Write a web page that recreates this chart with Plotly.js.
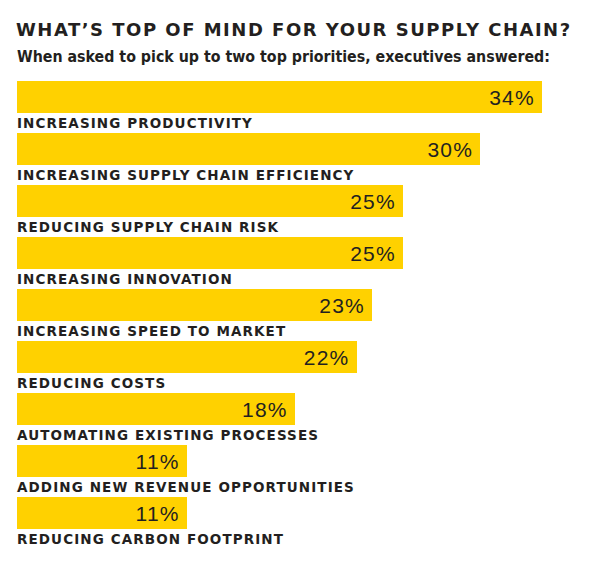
<!DOCTYPE html>
<html>
<head>
<meta charset="utf-8">
<script src="https://cdn.plot.ly/plotly-3.0.1.min.js"></script>
<style>
html,body{margin:0;padding:0;background:#fff;}
#chart{width:600px;height:573px;}
</style>
</head>
<body>
<div id="chart"></div>
<script>
const categories = [
  "INCREASING PRODUCTIVITY",
  "INCREASING SUPPLY CHAIN EFFICIENCY",
  "REDUCING SUPPLY CHAIN RISK",
  "INCREASING INNOVATION",
  "INCREASING SPEED TO MARKET",
  "REDUCING COSTS",
  "AUTOMATING EXISTING PROCESSES",
  "ADDING NEW REVENUE OPPORTUNITIES",
  "REDUCING CARBON FOOTPRINT"
];
const values = [34, 30, 25, 25, 23, 22, 18, 11, 11];
const titleText = "WHAT’S TOP OF MIND FOR YOUR SUPPLY CHAIN?";
const subtitleText = "When asked to pick up to two top priorities, executives answered:";

const positions = categories.map((c, i) => i);
const ink = "#231f20";

const trace = {
  type: "bar",
  orientation: "h",
  x: values,
  y: positions,
  width: 0.6,
  marker: {color: "#ffd100", line: {width: 0}},
  text: values.map(v => '<span style="letter-spacing:1.2px">' + v + '%</span>\u2009'),
  textposition: "inside",
  insidetextanchor: "end",
  textangle: 0,
  textfont: {family: "Liberation Sans, Arial, sans-serif", size: 21, color: ink},
  cliponaxis: false,
  hoverinfo: "none"
};

const annotations = categories.map((c, i) => ({
  x: 0, y: i, xref: "x", yref: "y",
  xanchor: "left", yanchor: "middle",
  yshift: -26, xshift: -2,
  showarrow: false,
  text: '<span style="letter-spacing:1.1px">' + c + '</span>',
  font: {family: "DejaVu Sans, sans-serif", size: 13.5, color: ink, weight: "bold"}
}));

annotations.push({
  xref: "paper", yref: "paper",
  x: -2/525, y: 1 + (71 - 56) / 468,
  xanchor: "left", yanchor: "middle",
  showarrow: false,
  text: subtitleText,
  font: {family: "DejaVu Sans Condensed, DejaVu Sans, sans-serif", size: 15.8, color: ink, weight: "bold"}
});

const layout = {
  width: 600, height: 573,
  margin: {l: 17, r: 58, t: 71, b: 34},
  paper_bgcolor: "#ffffff",
  plot_bgcolor: "#ffffff",
  showlegend: false,
  title: {
    text: '<span style="letter-spacing:1.5px">' + titleText + '</span>',
    xref: "container", yref: "container",
    x: 16/600, y: 1 - 30/573,
    xanchor: "left", yanchor: "middle",
    font: {family: "DejaVu Sans, sans-serif", size: 18, color: ink, weight: "bold"}
  },
  xaxis: {range: [0, 34], visible: false, fixedrange: true},
  yaxis: {range: [8.5, -0.5], visible: false, fixedrange: true},
  annotations: annotations,
  bargap: 0
};

Plotly.newPlot("chart", [trace], layout, {staticPlot: true, displayModeBar: false});
</script>
</body>
</html>
